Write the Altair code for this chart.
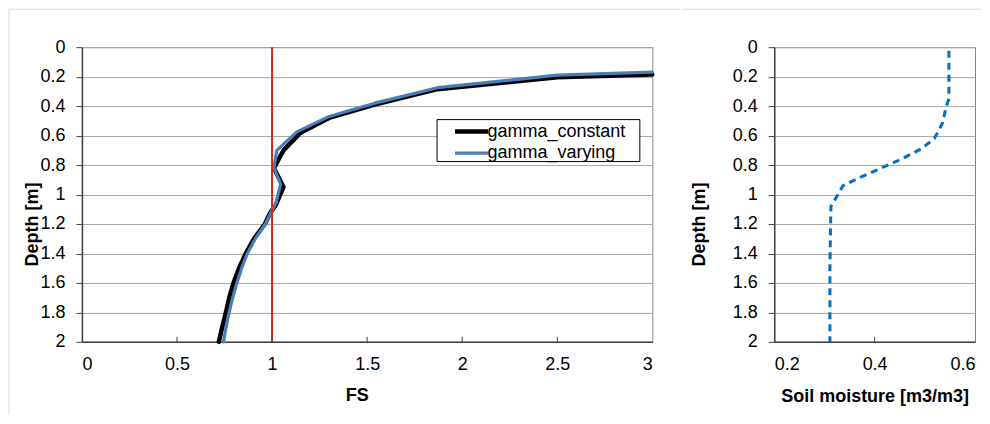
import altair as alt
import pandas as pd

# ---------------- data ----------------
series_names = ["gamma_constant", "gamma_varying"]

fs_const = [3.0, 2.5, 1.87, 1.54, 1.30, 1.15, 1.06, 1.01, 1.06, 1.02, 0.99, 0.962, 0.905,
            0.862, 0.826, 0.797, 0.775, 0.757, 0.738, 0.72]
depth_const = [0.185, 0.205, 0.285, 0.39, 0.48, 0.58, 0.70, 0.82, 0.95, 1.07, 1.125, 1.2, 1.3,
               1.4, 1.5, 1.6, 1.7, 1.8, 1.9, 2.0]

fs_var = [3.0, 2.5, 1.87, 1.54, 1.30, 1.13, 1.025, 1.01, 1.045, 1.02, 0.995, 0.965, 0.912,
          0.87, 0.84, 0.815, 0.793, 0.774, 0.758, 0.745]
depth_var = [0.17, 0.19, 0.275, 0.38, 0.47, 0.575, 0.70, 0.82, 0.93, 1.06, 1.12, 1.2, 1.3,
             1.4, 1.5, 1.6, 1.7, 1.8, 1.9, 2.0]

sm_values = [0.548, 0.548, 0.542, 0.536, 0.519, 0.493, 0.453, 0.407, 0.367, 0.337, 0.327, 0.313, 0.312, 0.311, 0.311]
sm_depth = [0.025, 0.35, 0.41, 0.51, 0.62, 0.69, 0.76, 0.83, 0.89, 0.94, 1.0, 1.08, 1.25, 1.5, 2.0]

fs_threshold = [1.0]

depth_ticks = [0, 0.2, 0.4, 0.6, 0.8, 1.0, 1.2, 1.4, 1.6, 1.8, 2.0]
fs_ticks = [0, 0.5, 1, 1.5, 2, 2.5, 3]
sm_ticks = [0.2, 0.4, 0.6]

# ---------------- tables ----------------
rows = []
for i, (f, d) in enumerate(zip(fs_const, depth_const)):
    rows.append({"series": series_names[0], "FS": f, "depth": d, "idx": i})
for i, (f, d) in enumerate(zip(fs_var, depth_var)):
    rows.append({"series": series_names[1], "FS": f, "depth": d, "idx": i})
fs_df = pd.DataFrame(rows)

sm_df = pd.DataFrame({"SM": sm_values, "depth": sm_depth, "idx": list(range(len(sm_values)))})
thr_df = pd.DataFrame({"FS": fs_threshold})
fs_tick_df = pd.DataFrame({"FS": fs_ticks[1:-1]})
sm_tick_df = pd.DataFrame({"SM": sm_ticks[1:-1]})
one = pd.DataFrame({"a": [0]})

W1, H1 = 571, 295
W2, H2 = 201, 295
FRAME = "#d9d9d9"
AXIS_DARK = "#404040"

y_scale = alt.Scale(domain=[0, 2], reverse=True, nice=False, zero=False)


def y_axis(title_x):
    return alt.Axis(values=depth_ticks, format="~g", title="Depth [m]", grid=True,
                    tickSize=6, labelPadding=11, labelOverlap=False,
                    titleX=title_x, titleY=177,
                    titleAngle=270, titleBaseline="alphabetic", titleAlign="center")


legend = alt.Legend(title=None, orient="none", legendX=355, legendY=71, padding=1,
                    symbolType="M-1.65,0H1.65", symbolSize=400, symbolOffset=21.5,
                    labelOffset=3.5, labelFontSize=18, rowPadding=0)

# ---------------- left panel ----------------
frame_top_l = alt.Chart(one).mark_rule(color=FRAME, strokeWidth=1).encode(
    x=alt.value(-73), x2=alt.value(599), y=alt.value(-38))
frame_left_l = alt.Chart(one).mark_rule(color=FRAME, strokeWidth=1).encode(
    x=alt.value(-73), y=alt.value(-38), y2=alt.value(368))

lines = alt.Chart(fs_df).mark_line(strokeJoin="round", strokeCap="round").encode(
    x=alt.X("FS:Q", scale=alt.Scale(domain=[0, 3], nice=False),
            axis=alt.Axis(values=fs_ticks, format="~g", title="FS", ticks=False,
                          labelPadding=14, labelOverlap=False, grid=False,
                          titleX=275, titleY=59, titleBaseline="alphabetic")),
    y=alt.Y("depth:Q", scale=y_scale, axis=y_axis(-44.5)),
    color=alt.Color("series:N", scale=alt.Scale(domain=series_names, range=["#000000", "#4A7EBB"]),
                    legend=legend),
    strokeWidth=alt.StrokeWidth("series:N", scale=alt.Scale(domain=series_names, range=[4.5, 3.2]),
                                legend=legend),
    order=alt.Order("idx:Q"),
)

# white legend box (the legend itself is drawn over it)
legend_box = alt.Chart(one).mark_rect(fill="white", stroke="black", strokeWidth=1).encode(
    x=alt.value(355.5), x2=alt.value(558.5), y=alt.value(72.5), y2=alt.value(114.5))

red = alt.Chart(thr_df).mark_rule(color="#CC2A1A", strokeWidth=2).encode(
    x="FS:Q", y=alt.value(0), y2=alt.value(H1))

ticks_l = alt.Chart(fs_tick_df).mark_rule(color=AXIS_DARK, strokeWidth=1).encode(
    x="FS:Q", y=alt.value(H1 - 5), y2=alt.value(H1))

left = alt.layer(frame_top_l, frame_left_l, lines, legend_box, red, ticks_l).properties(
    width=W1, height=H1)

# ---------------- right panel ----------------
frame_top_r = alt.Chart(one).mark_rule(color=FRAME, strokeWidth=1).encode(
    x=alt.value(-92), x2=alt.value(207), y=alt.value(-38))

sm_line = alt.Chart(sm_df).mark_line(color="#0070C0", strokeWidth=3, strokeDash=[7, 5],
                                     strokeJoin="round").encode(
    x=alt.X("SM:Q", scale=alt.Scale(domain=[0.2, 0.6], nice=False, zero=False),
            axis=alt.Axis(values=sm_ticks, format="~g", title="Soil moisture [m3/m3]",
                          ticks=False, labelPadding=14, labelOverlap=False, grid=False,
                          titleY=60, titleBaseline="alphabetic")),
    y=alt.Y("depth:Q", scale=y_scale, axis=y_axis(-70)),
    order=alt.Order("idx:Q"),
)

ticks_r = alt.Chart(sm_tick_df).mark_rule(color=AXIS_DARK, strokeWidth=1).encode(
    x="SM:Q", y=alt.value(H2 - 5), y2=alt.value(H2))

right = alt.layer(frame_top_r, sm_line, ticks_r).properties(width=W2, height=H2)

chart = alt.hconcat(left, right, spacing=0).properties(
    padding=0
).configure_view(
    stroke="#868686", strokeWidth=1
).configure_axis(
    labelFont="Liberation Sans", labelFontSize=18, labelColor="#000000", labelOverlap=False,
    titleFont="Liberation Sans", titleFontSize=18, titleFontWeight="bold", titleColor="#000000",
    domainColor=AXIS_DARK, domainWidth=1.5, tickColor=AXIS_DARK, gridColor="#a6a6a6",
    gridWidth=1
).configure_legend(
    labelFont="Liberation Sans", labelColor="#000000"
)

chart.save("out.html", embed_options={"renderer": "svg", "actions": False})
